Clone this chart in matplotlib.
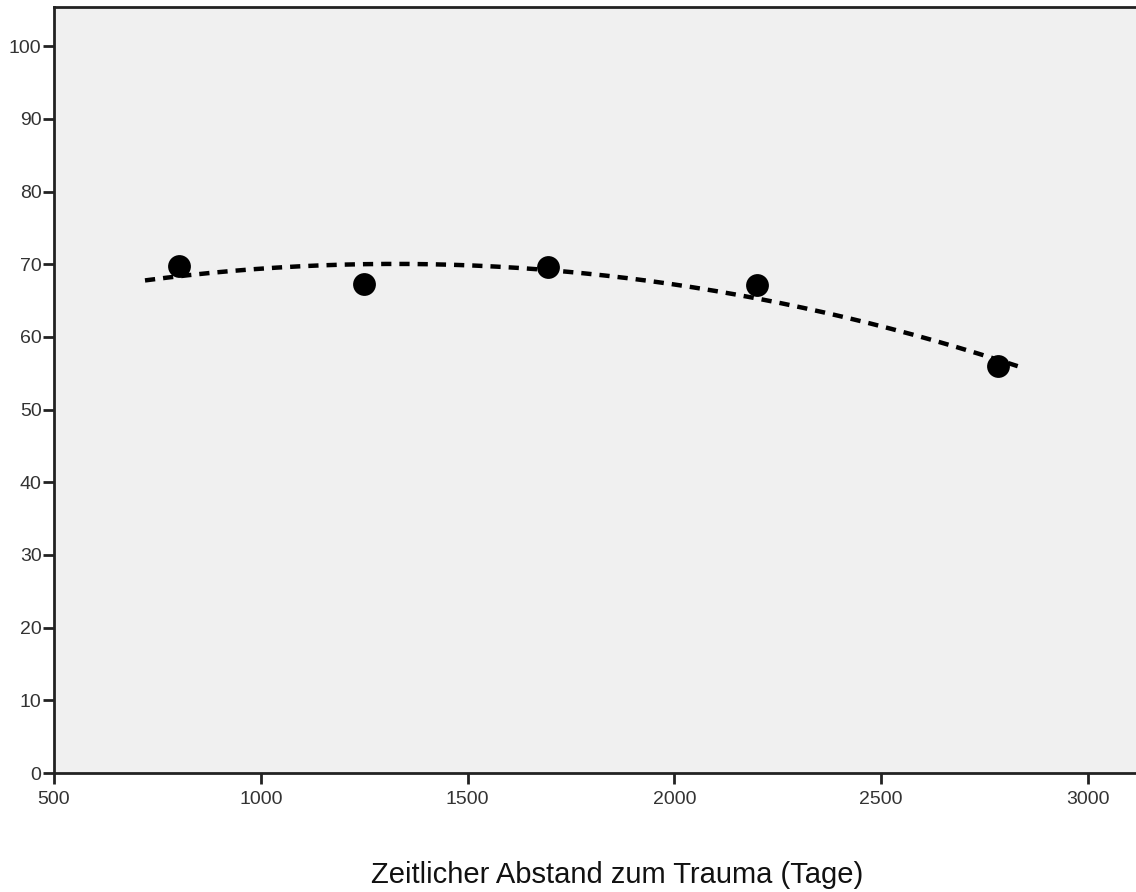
import numpy as np
import matplotlib
matplotlib.use("Agg")
import matplotlib.pyplot as plt

plt.rcParams["font.family"] = ["Liberation Sans", "DejaVu Sans"]

# data
days = [802, 1250, 1695, 2200, 2783]
score = [69.7, 67.3, 69.6, 67.1, 56.0]
x_ticks = [500, 1000, 1500, 2000, 2500, 3000]
y_ticks = [0, 10, 20, 30, 40, 50, 60, 70, 80, 90, 100]
fit_start, fit_end = 720, 2830

W, H = 1136, 892
fig = plt.figure(figsize=(W / 100, H / 100), dpi=100)
fig.patch.set_facecolor("white")
ax = fig.add_axes([54 / W, (H - 773) / H, (W - 54) / W, (773 - 7) / H])
ax.set_facecolor("#f0f0f0")

# quadratic fit line
coef = np.polyfit(days, score, 2)
xs = np.linspace(fit_start, fit_end, 200)
ax.plot(xs, np.polyval(coef, xs), color="black", lw=3.2,
        linestyle=(0, (2.3, 1.8)), zorder=2)
ax.scatter(days, score, s=270, color="black", zorder=3, linewidths=0)

ax.set_xlim(500, 3116)
ax.set_ylim(0, 105.4)
ax.set_xticks(x_ticks)
ax.set_yticks(y_ticks)
ax.tick_params(axis="both", direction="out", length=8, width=2,
               labelsize=14, labelcolor="#333333", color="#222222", pad=1)
ax.tick_params(axis="x", pad=5)

for side in ["left", "bottom", "top"]:
    ax.spines[side].set_linewidth(2)
    ax.spines[side].set_color("#222222")
ax.spines["right"].set_visible(False)

fig.text(617 / W, (H - 875) / H, "Zeitlicher Abstand zum Trauma (Tage)",
         ha="center", va="center", fontsize=21, color="#111111")

fig.savefig("out.png", dpi=100)
